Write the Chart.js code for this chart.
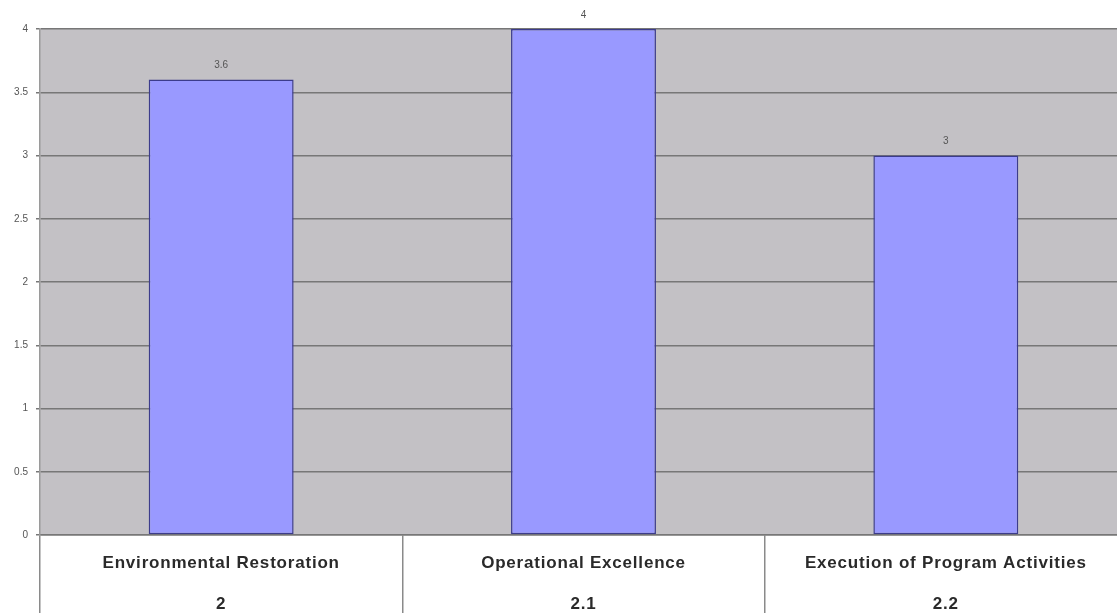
<!DOCTYPE html>
<html>
<head>
<meta charset="utf-8">
<title>Program scores</title>
<script src="https://cdn.jsdelivr.net/npm/chart.js@4/dist/chart.umd.min.js"></script>
<style>
    html, body { margin: 0; padding: 0; background: #fff; overflow: hidden; }
    #wrap { width: 1117px; height: 613px; overflow: hidden; }
</style>
</head>
<body>
<div id="wrap">
    <canvas id="score-chart" width="1127" height="613"></canvas>
</div>
<script>
    "use strict";

    // Data
    var categories = ["Environmental Restoration", "Operational Excellence", "Execution of Program Activities"];
    var codes = ["2", "2.1", "2.2"];
    var scores = [3.6, 4, 3];
    var yTicks = [0, 0.5, 1, 1.5, 2, 2.5, 3, 3.5, 4];


    // Grey plot background
    var plotBackground = {
        id: "plotBackground",
        beforeDraw: function (chart) {
            var a = chart.chartArea;
            var ctx = chart.ctx;
            ctx.save();
            ctx.fillStyle = "#c3c1c5";
            ctx.fillRect(a.left, a.top, a.right - a.left, a.bottom - a.top);
            ctx.restore();
        }
    };

    // Values above the bars
    var barValues = {
        id: "barValues",
        afterDatasetsDraw: function (chart) {
            var ctx = chart.ctx;
            var meta = chart.getDatasetMeta(0);
            ctx.save();
            ctx.font = "10px 'Liberation Sans', Arial, sans-serif";
            ctx.fillStyle = "#555";
            ctx.textAlign = "center";
            ctx.textBaseline = "middle";
            meta.data.forEach(function (bar, i) {
                ctx.fillText(String(scores[i]), bar.x, bar.y - 14);
            });
            ctx.restore();
        }
    };

    // Table under the axis: name and code for each category
    var categoryTable = {
        id: "categoryTable",
        afterDraw: function (chart) {
            var ctx = chart.ctx;
            var x = chart.scales.x;
            ctx.save();
            ctx.font = "bold 17px 'Liberation Sans', Arial, sans-serif";
            if ("letterSpacing" in ctx) ctx.letterSpacing = "0.8px";
            ctx.fillStyle = "#2a2a2a";
            ctx.textAlign = "center";
            ctx.textBaseline = "middle";
            categories.forEach(function (name, i) {
                var px = x.getPixelForValue(i);
                ctx.fillText(name, px, x.top + 28);
                ctx.fillText(codes[i], px, x.top + 69);
            });
            ctx.restore();
        }
    };

    var ctx1 = document.getElementById("score-chart").getContext("2d");
    var myChart1 = new Chart(ctx1, {
        type: "bar",
        data: {
            labels: categories,
            datasets: [{
                data: scores,
                backgroundColor: "#9999ff",
                borderColor: "#3c3c8c",
                borderWidth: 1.5,
                borderSkipped: false,
                barPercentage: 0.4,
                categoryPercentage: 1
            }]
        },
        options: {
            responsive: false,
            animation: false,
            layout: { padding: { top: 29, right: 0, left: 0, bottom: 0 } },
            plugins: {
                legend: { display: false },
                tooltip: { enabled: false }
            },
            scales: {
                x: {
                    offset: true,
                    ticks: { display: false },
                    grid: {
                        offset: true,
                        drawOnChartArea: false,
                        drawTicks: true,
                        tickLength: 78,
                        color: "#8a8a8a",
                        lineWidth: 1.5
                    },
                    border: { display: true, color: "#777", width: 1.5 },
                    afterFit: function (scale) { scale.height = 78; }
                },
                y: {
                    min: 0,
                    max: 4,
                    afterBuildTicks: function (scale) {
                        scale.ticks = yTicks.map(function (v) { return { value: v }; });
                    },
                    ticks: {
                        padding: 8,
                        color: "#555",
                        font: { family: "'Liberation Sans', Arial, sans-serif", size: 10 },
                        callback: function (value) { return String(value); }
                    },
                    grid: {
                        color: "#777",
                        lineWidth: 1.5,
                        drawTicks: true,
                        tickLength: 4
                    },
                    border: { display: true, color: "#9a9a9a", width: 1.5 },
                    afterFit: function (scale) { scale.width = 40; }
                }
            }
        },
        plugins: [plotBackground, barValues, categoryTable]
    });
</script>
</body>
</html>
